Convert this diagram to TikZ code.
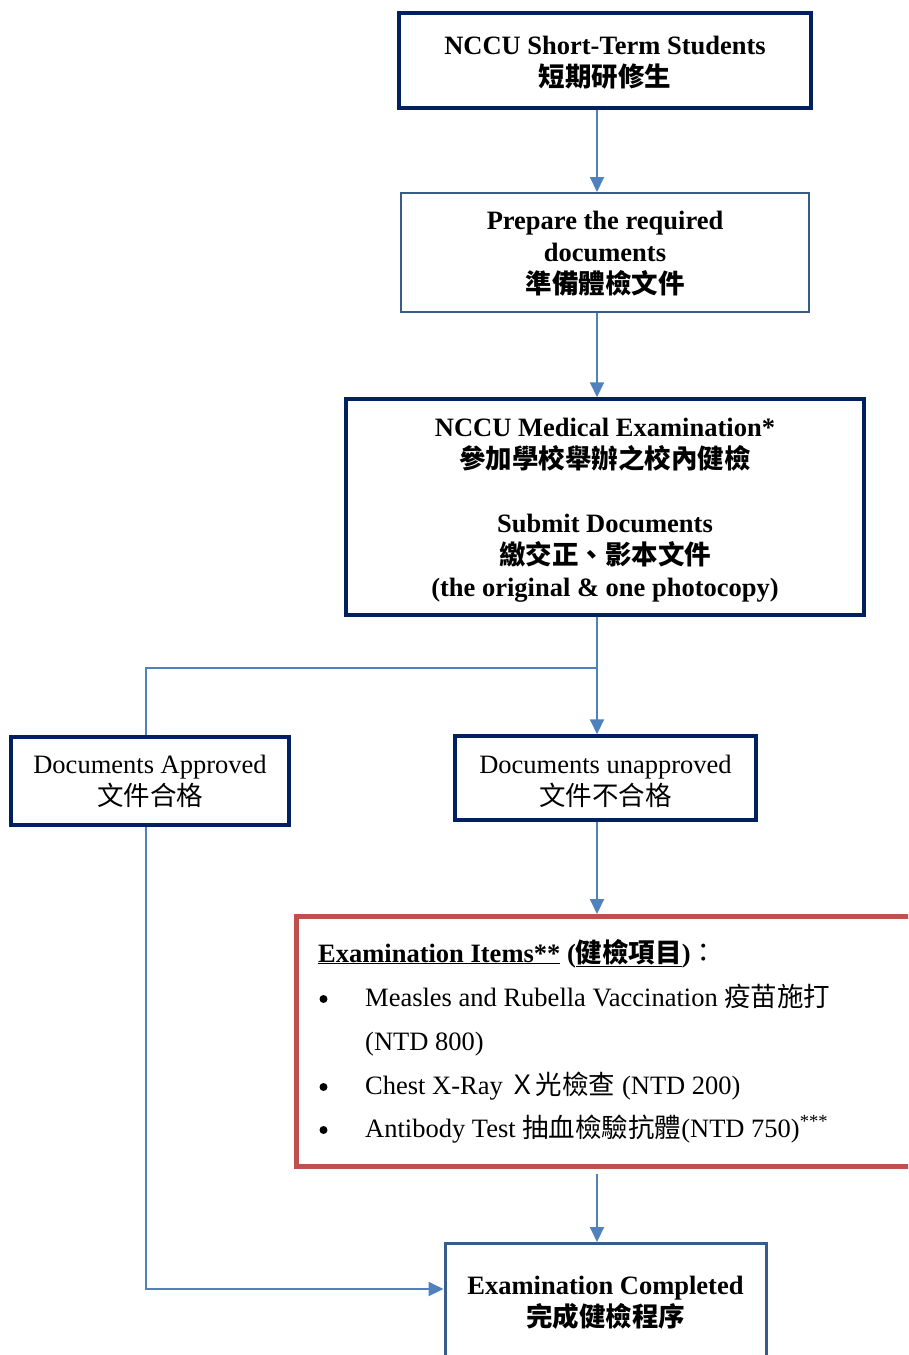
\documentclass[tikz,border=0pt]{standalone}
\usepackage{fontspec}
\setmainfont{Liberation Serif}
\newfontfamily\cjk{Noto Sans CJK TC}
\usetikzlibrary{arrows.meta}
\definecolor{navy}{HTML}{002060}
\definecolor{medblue}{HTML}{385D8A}
\definecolor{connblue}{HTML}{4F81BD}
\definecolor{boxred}{HTML}{C0504D}
\begin{document}
\begin{tikzpicture}[x=1pt,y=-1pt,
  font=\fontsize{26.5}{32}\selectfont,
  navybox/.style={draw=navy,line width=3.5pt,inner sep=0pt},
  medbox/.style={draw=medblue,inner sep=0pt},
  redbox/.style={draw=boxred,line width=4.5pt,inner sep=0pt},
  boxtxt/.style={inner sep=0pt,align=center},
  plain/.style={draw=connblue,line width=2pt},
  conn/.style={plain,-{Triangle[width=14pt,length=15pt]}},
  itemtxt/.style={anchor=base west,inner sep=0pt},
  dot/.style={circle,fill=black,minimum size=8pt,inner sep=0pt}]
\useasboundingbox (0,0) rectangle (908,1355);
\clip (0,0) rectangle (908,1355);
% boxes
\node[navybox,minimum width=412,minimum height=95] (n1) at (605,60.5) {};
\node[boxtxt] (n1t) at (605,63)
  {\bfseries NCCU Short-Term Students\\{\cjk\bfseries 短期研修生}};
\node[medbox,line width=2pt,minimum width=408,minimum height=119] (n2) at (605,252.5) {};
\node[boxtxt] (n2t) at (605,254)
  {\bfseries Prepare the required\\\bfseries documents\\{\cjk\bfseries 準備體檢文件}};
\node[navybox,minimum width=518,minimum height=216] (n3) at (605,507) {};
\node[boxtxt] (n3t) at (605,510)
  {\bfseries NCCU Medical Examination*\\{\cjk\bfseries 參加學校舉辦之校內健檢}\\[32pt]
   \bfseries Submit Documents\\{\cjk\bfseries 繳交正、影本文件}\\\bfseries (the original \& one photocopy)};
\node[navybox,minimum width=278,minimum height=88] (appr) at (150,781) {};
\node[boxtxt] (apprt) at (150,781) {Documents Approved\\{\cjk 文件合格}};
\node[navybox,minimum width=301,minimum height=84] (unappr) at (605.5,778) {};
\node[boxtxt] (unapprt) at (605.5,781) {Documents unapproved\\{\cjk 文件不合格}};
\node[redbox,minimum width=660,minimum height=250,anchor=north west] (items) at (294,914) {};
\node[medbox,line width=3pt,minimum width=321,minimum height=200,anchor=north] (done) at (605.5,1242) {};
\node[boxtxt] (donet) at (605.5,1303)
  {\bfseries Examination Completed\\{\cjk\bfseries 完成健檢程序}};
% items text
\node[itemtxt] (t0) at (318,962)
  {{\bfseries\underline{Examination Items**} (\underline{{\cjk 健檢項目}})}{\cjk ：}};
\node[dot] (b1) at (323.5,999) {};
\node[itemtxt] (t1) at (365,1006) {Measles and Rubella Vaccination {\cjk 疫苗施打}};
\node[itemtxt] (t1b) at (365,1050) {(NTD 800)};
\node[dot] (b2) at (323.5,1087) {};
\node[itemtxt] (t2) at (365,1094) {Chest X-Ray {\cjk Ｘ光檢查} (NTD 200)};
\node[dot] (b3) at (323.5,1130) {};
\node[itemtxt] (t3) at (365,1137) {Antibody Test {\cjk 抽血檢驗抗體}(NTD 750)\textsuperscript{***}};
% connectors
\coordinate (j) at (597,668);
\coordinate (k) at (146,1289);
\draw[conn] (n1.south -| j) -- (n2.north -| j);
\draw[conn] (n2.south -| j) -- (n3.north -| j);
\draw[plain] (n3.south -| j) -- (j);
\draw[conn] (j) -- (unappr.north -| j);
\draw[plain] (j) -| (appr.north -| k);
\draw[conn] (appr.south -| k) -- (k) -- (done.west |- k);
\draw[conn] (unappr.south -| j) -- (items.north -| j);
\draw[conn] ([yshift=-5pt]items.south -| j) -- (done.north -| j);
\end{tikzpicture}
\end{document}
